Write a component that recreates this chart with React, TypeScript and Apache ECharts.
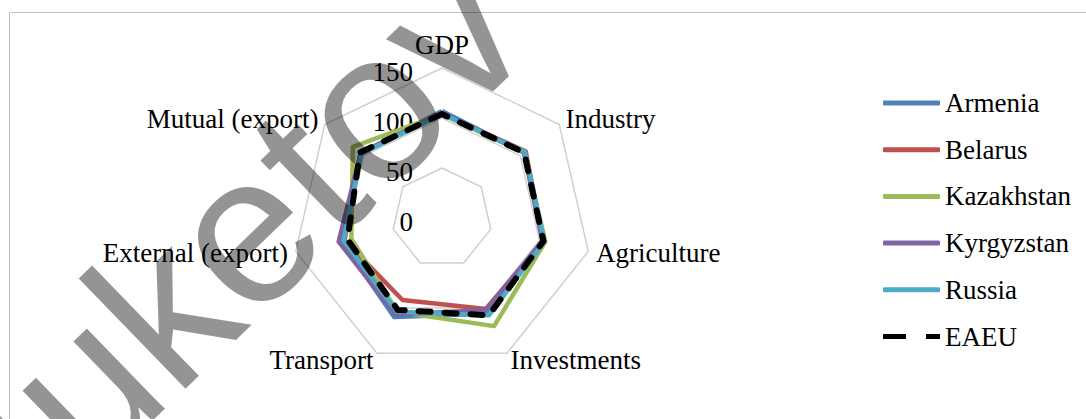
import React, { useEffect, useRef } from "react";
import * as echarts from "echarts";

const indicatorNames = ["GDP", "Industry", "Agriculture", "Investments", "Transport", "External (export)", "Mutual (export)"];
const axisMax = 150;
const axisSplits = 3; // ticks 0, 50, 100, 150

const seriesNames = ["Armenia", "Belarus", "Kazakhstan", "Kyrgyzstan", "Russia", "EAEU"];
const armenia = [107, 105, 104, 106, 110, 103, 104];
const belarus = [104, 107, 104, 101, 91, 100, 104];
const kazakhstan = [104, 105, 106, 120, 104, 93, 114];
const kyrgyzstan = [105, 105, 103, 102, 107, 106, 104];
const russia = [104, 106, 105, 108, 104, 101, 103];
const eaeu = [104, 105, 104, 108, 102, 97, 105];

const seriesValues = [armenia, belarus, kazakhstan, kyrgyzstan, russia, eaeu];
const seriesColors = ["#4F81BD", "#C0504D", "#9BBB59", "#8064A2", "#4BACC6", "#000000"];

// Excel draws clockwise, ECharts counterclockwise: reorder after the first axis
const order = [0, 6, 5, 4, 3, 2, 1];
const FONT = "Liberation Serif";

export default function App() {
  const ref = useRef<HTMLDivElement>(null);
  useEffect(() => {
    if (!ref.current) return;
    const chart = echarts.init(ref.current, null, { renderer: "svg" });
    const indicator = order.map((i, k) => {
      const ind: any = { name: indicatorNames[i], min: 0, max: axisMax };
      if (k === 0) {
        ind.axisLabel = {
          show: true,
          color: "#000",
          fontSize: 27,
          fontFamily: FONT,
          margin: 29,
          verticalAlign: "top",
          lineHeight: 8,
        };
      }
      return ind;
    });
    const data = seriesNames.map((name, s) => {
      const isAvg = s === 5;
      return {
        name,
        value: order.map((i) => seriesValues[s][i]),
        itemStyle: { color: seriesColors[s] },
        lineStyle: isAvg
          ? { color: "#000", width: 6, type: [12, 14], cap: "round" }
          : { color: seriesColors[s], width: 4.5, join: "round" },
        symbol: "none",
      };
    });
    chart.setOption({
      animation: false,
      backgroundColor: "#fff",
      textStyle: { fontFamily: FONT },
      radar: {
        center: [442, 218],
        radius: 150,
        startAngle: 90,
        splitNumber: axisSplits,
        shape: "polygon",
        axisNameGap: 8,
        axisName: { color: "#000", fontSize: 27, fontFamily: FONT },
        splitLine: { lineStyle: { color: "#D0D0D0", width: 1.5 } },
        splitArea: { show: false },
        axisLine: { show: false },
        axisTick: { show: false },
        axisLabel: { show: false },
        indicator,
      },
      legend: {
        orient: "vertical",
        left: 878,
        top: 84,
        itemWidth: 57,
        itemHeight: 5,
        itemGap: 18.7,
        itemStyle: { borderWidth: 0 },
        textStyle: { fontSize: 27, fontFamily: FONT, color: "#000", lineHeight: 28 },
        data: seriesNames.map((name, s) => ({
          name,
          icon: s === 5 ? "path://M0,0L23,0L23,5L0,5ZM43,0L57,0L57,5L43,5Z" : "roundRect",
        })),
      },
      series: [
        {
          type: "radar",
          symbol: "none",
          data,
        },
      ],
      graphic: [
        {
          type: "rect",
          silent: true,
          shape: { x: 9.5, y: 12.5, width: 2000, height: 1000 },
          style: { fill: "none", stroke: "#BFBFBF", lineWidth: 1 },
          z: -1,
        },
        {
          type: "text",
          silent: true,
          x: 213,
          y: 260,
          rotation: 0.768,
          z: 100,
          style: {
            text: "Buketov",
            fontSize: 212,
            fontFamily: "Liberation Sans",
            fill: "rgba(0,0,0,0.42)",
            align: "center",
            verticalAlign: "middle",
          },
        },
      ],
    });
    return () => chart.dispose();
  }, []);
  return (
    <div
      ref={ref}
      style={{ position: "fixed", left: 0, top: 0, width: 1086, height: 419, background: "#fff" }}
    />
  );
}
